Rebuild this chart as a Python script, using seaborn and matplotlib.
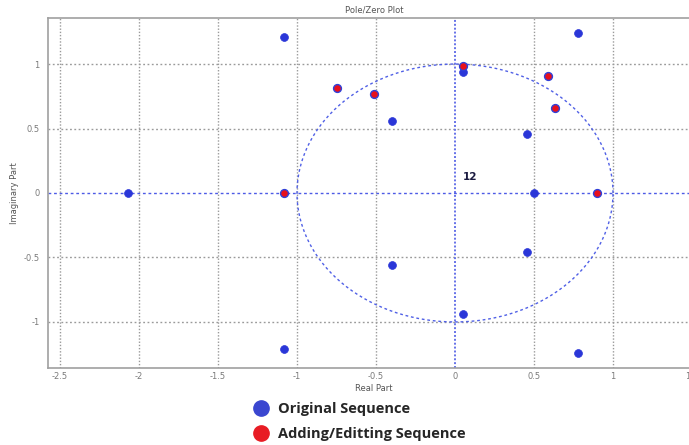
import numpy as np
import pandas as pd
import matplotlib.pyplot as plt
from matplotlib.lines import Line2D
import seaborn as sns

# poles/zeros
orig_re = [-2.07, -1.08, -1.08, -0.40, -0.40, 0.05, 0.05, 0.455, 0.455, 0.50, 0.78, 0.78]
orig_im = [0.0, 1.21, -1.21, 0.56, -0.56, 0.94, -0.94, 0.46, -0.46, 0.0, 1.24, -1.24]
edit_re = [-1.08, -0.75, -0.51, 0.05, 0.59, 0.635, 0.90]
edit_im = [0.0, 0.815, 0.765, 0.985, 0.91, 0.66, 0.0]
xticks = [-2.5, -2, -1.5, -1, -0.5, 0, 0.5, 1, 1.5]
yticks = [-1, -0.5, 0, 0.5, 1]
legend_labels = ['Original Sequence', 'Adding/Editting Sequence']

df = pd.DataFrame({
    're': orig_re + edit_re,
    'im': orig_im + edit_im,
    'set': ['orig'] * len(orig_re) + ['edit'] * len(edit_re),
})

sns.set_style("white")
plt.rcParams['font.family'] = ['DejaVu Sans']

fig = plt.figure(figsize=(6.89, 4.45), dpi=100)
W, H = 689, 445
ax = fig.add_axes([48 / W, 1 - 368 / H, (700 - 48) / W, (368 - 18) / H])

# grid
for x in xticks:
    if x != 0:
        ax.axvline(x, color='#9a9a9a', lw=1.0, ls=(0, (1, 1.3)), zorder=0)
for y in yticks:
    if y != 0:
        ax.axhline(y, color='#9a9a9a', lw=1.0, ls=(0, (1.3, 1.8)), zorder=0)

# axes through origin and unit circle
ax.axhline(0, color='#4d5be6', lw=1.0, ls=(0, (2, 2)), zorder=1)
ax.axvline(0, color='#6672e8', lw=1.4, ls=(0, (1, 1)), zorder=1)
t = np.linspace(0, 2 * np.pi, 400)
ax.plot(np.cos(t), np.sin(t), color='#5060e6', lw=1.0, ls=(0, (2, 2)), zorder=1)

sns.scatterplot(data=df[df['set'] == 'orig'], x='re', y='im', ax=ax,
                color='#2a36d8', edgecolor='#2a36d8', s=32, linewidth=0.5, zorder=3)
sns.scatterplot(data=df[df['set'] == 'edit'], x='re', y='im', ax=ax,
                color='#e8101c', edgecolor='#3040d8', s=32, linewidth=1.0, zorder=4)

ax.text(0.05, 0.1, '12', fontsize=7.5, fontweight='bold', color='#1a1a40')

ax.set_xlim((48 - 455) / 158, (700 - 455) / 158)
ax.set_ylim(-1.357, 1.357)
ax.set_xticks(xticks)
ax.set_xticklabels([f'{v:g}' for v in xticks])
ax.set_yticks(yticks)
ax.set_yticklabels([f'{v:g}' for v in yticks])
ax.tick_params(labelsize=6, colors='#7a7a7a', length=3, direction='out', pad=3)
ax.tick_params(axis='x', length=0)
for side in ['left', 'bottom', 'top']:
    ax.spines[side].set_color('#a0a0a0')
    ax.spines[side].set_linewidth(1.2)
ax.spines['right'].set_visible(False)

ax.set_title('Pole/Zero Plot', fontsize=6, color='#555555', pad=4)
ax.set_xlabel('Real Part', fontsize=6, color='#555555', labelpad=2)
ax.set_ylabel('Imaginary Part', fontsize=6, color='#555555', labelpad=3)

handles = [
    Line2D([], [], marker='o', ls='', color='#3a46d0', markersize=11),
    Line2D([], [], marker='o', ls='', color='#e81c24', markersize=11),
]
fig.legend(handles, legend_labels, loc='upper left', bbox_to_anchor=(245 / W, 1 - 395 / H),
           frameon=False, prop={'family': 'Open Sans', 'weight': 'bold', 'size': 10.5},
           handletextpad=0.55, labelspacing=0.75, borderpad=0, handlelength=1.2)

fig.savefig('out.png', dpi=100)
